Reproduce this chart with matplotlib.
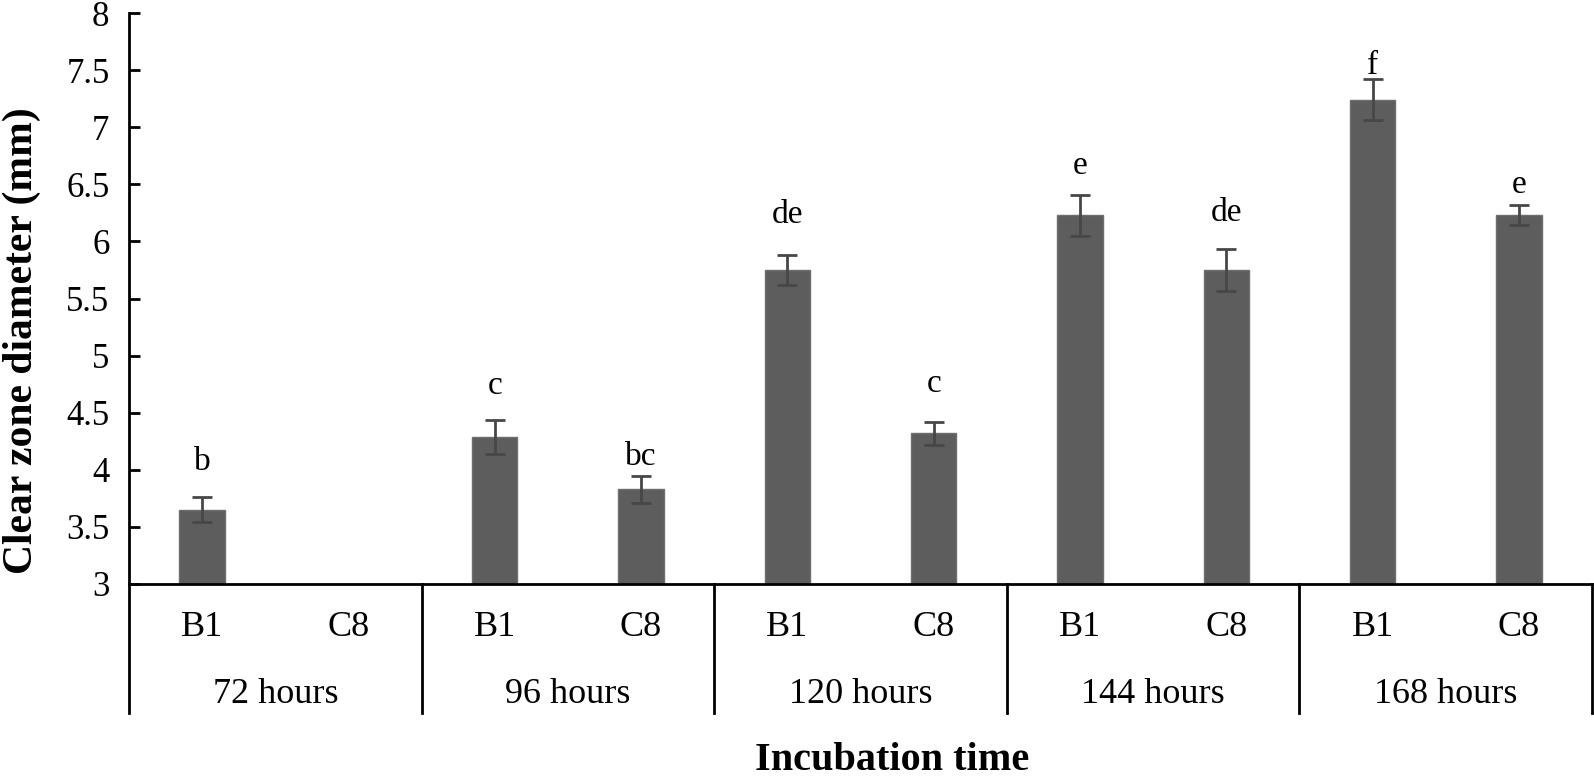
import numpy as np
import matplotlib.pyplot as plt

plt.rcParams.update({
    "font.family": ["Liberation Serif", "DejaVu Serif"],
    "font.size": 25,
})

# data
groups = ["72 hours", "96 hours", "120 hours", "144 hours", "168 hours"]
strains = ["B1", "C8"]
b1_mean = [3.65, 4.29, 5.75, 6.23, 7.24]
c8_mean = [np.nan, 3.83, 4.32, 5.75, 6.23]
b1_err = [0.11, 0.15, 0.13, 0.18, 0.18]
c8_err = [np.nan, 0.12, 0.10, 0.18, 0.09]
b1_letters = ["b", "c", "de", "e", "f"]
c8_letters = ["", "bc", "c", "de", "e"]
b1_letter_y = [4.07, 4.74, 6.23, 6.66, 7.54]
c8_letter_y = [np.nan, 4.11, 4.75, 6.25, 6.50]

bar_color = "#5d5d5d"
err_color = "#474747"

fig = plt.figure(figsize=(15.94, 7.77), dpi=100)
ax = fig.add_axes([129 / 1594, 1 - 584 / 777, (1592 - 129) / 1594, (584 - 13) / 777])

n = len(groups)
x_b1 = np.arange(n) * 2
x_c8 = np.arange(n) * 2 + 1
width = 0.31

for xs, means, errs, letters, ly in [(x_b1, b1_mean, b1_err, b1_letters, b1_letter_y),
                                     (x_c8, c8_mean, c8_err, c8_letters, c8_letter_y)]:
    m = np.array(means, dtype=float)
    ok = ~np.isnan(m)
    ax.bar(xs[ok], m[ok] - 3, bottom=3, width=width, color=bar_color,
           edgecolor="#6e6e6e", linewidth=1, zorder=2)
    ax.errorbar(xs[ok], m[ok], yerr=np.array(errs)[ok], fmt="none",
                ecolor=err_color, elinewidth=2, capsize=7, capthick=2, zorder=3)
    for x, lab, y in zip(xs, letters, ly):
        if lab:
            ax.text(x, y, lab, ha="center", va="center", fontsize=24)

ax.set_xlim(-0.5, 2 * n - 0.5)
ax.set_ylim(3, 8)
ax.set_yticks(np.arange(3, 8.01, 0.5))
ax.set_yticklabels(["3", "3.5", "4", "4.5", "5", "5.5", "6", "6.5", "7", "7.5", "8"])
ax.tick_params(axis="y", direction="in", length=8, width=2, pad=14, labelsize=25)
ax.set_xticks([])

for s in ["top", "right"]:
    ax.spines[s].set_visible(False)
for s in ["left", "bottom"]:
    ax.spines[s].set_linewidth(2)

# two-level category axis
trans = ax.get_xaxis_transform()
for k in range(n + 1):
    ax.plot([2 * k - 0.5, 2 * k - 0.5], [0, -0.226], color="black", lw=2,
            transform=trans, clip_on=False)
for i, g in enumerate(groups):
    ax.text(2 * i, -0.077, strains[0], transform=trans, ha="center", va="center", fontsize=26)
    ax.text(2 * i + 1, -0.077, strains[1], transform=trans, ha="center", va="center", fontsize=26)
    ax.text(2 * i + 0.5, -0.194, g, transform=trans, ha="center", va="center", fontsize=26)

fig.text(892 / 1594, 1 - 760 / 777, "Incubation time", ha="center", va="center",
         fontsize=29, fontweight="bold")
fig.text(22 / 1594, 1 - 341 / 777, "Clear zone diameter (mm)", ha="center", va="center",
         rotation=90, fontsize=30, fontweight="bold")

fig.savefig("out.png", dpi=100)
